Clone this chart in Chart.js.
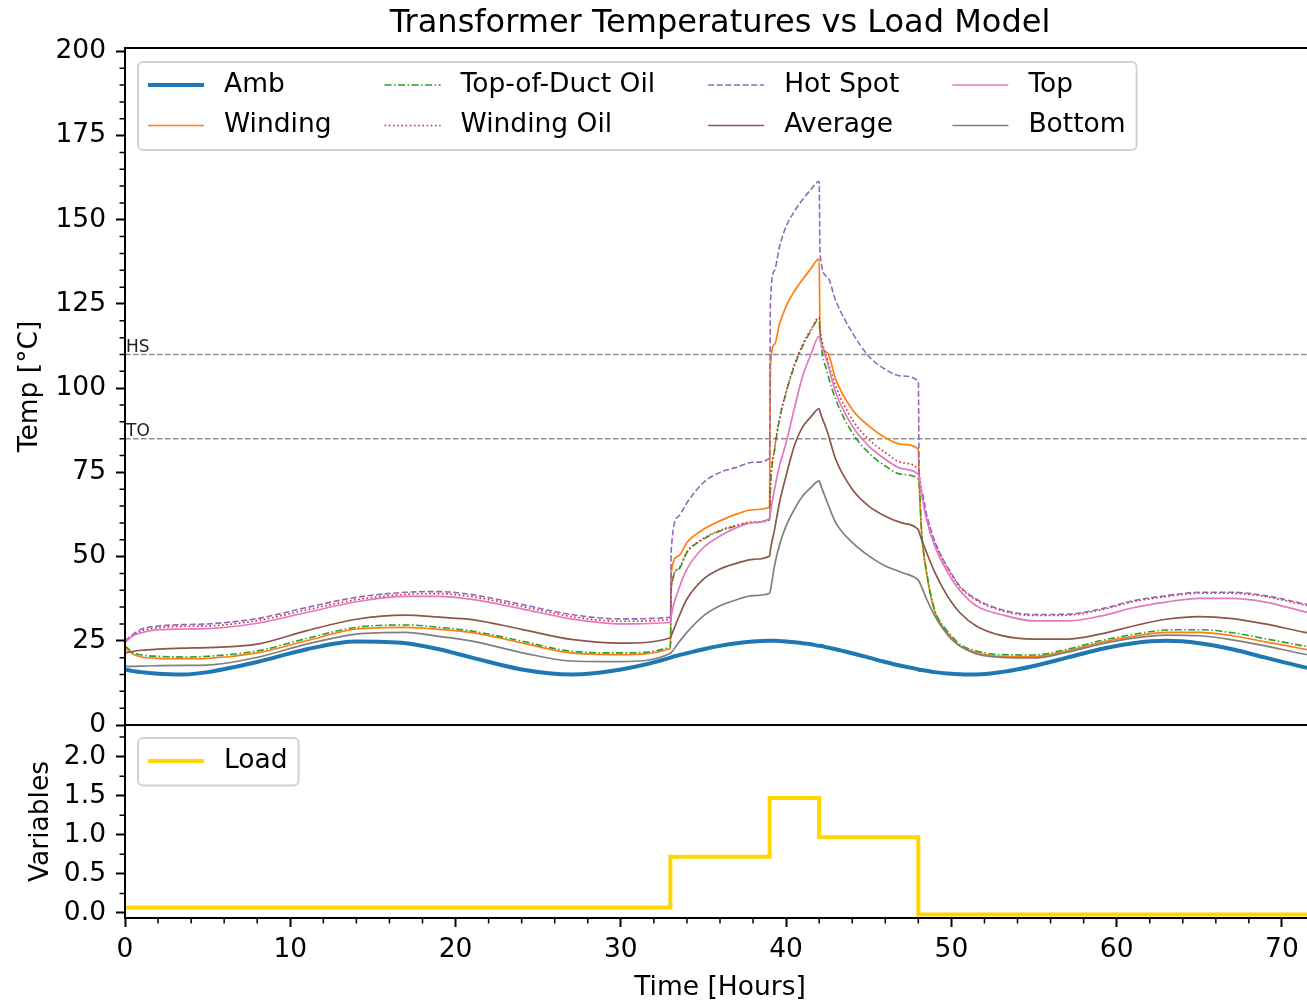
<!DOCTYPE html>
<html>
<head>
<meta charset="utf-8">
<script src="https://cdn.jsdelivr.net/npm/chart.js@4"></script>
<style>
html,body{margin:0;padding:0;overflow:hidden;background:#fff;width:1307px;height:1003px}
#wrap{position:relative;width:1307px;height:1003px;overflow:hidden;background:#fff}
#cTemp{position:absolute;left:0;top:0}
#cLoad{position:absolute;left:0;top:680px}
</style>
</head>
<body>
<div id="wrap">
<canvas id="cTemp" width="1320" height="770"></canvas>
<canvas id="cLoad" width="1320" height="323"></canvas>
</div>
<script>
// ---------------- data ----------------
const TITLE = 'Transformer Temperatures vs Load Model';
const hours = [0, 0.5, 1, 2, 3.5, 5, 8, 11, 14, 17, 19, 21, 24, 27, 30,
  33, 33.05, 33.5, 34, 35, 36, 37, 38, 39, 39.05, 39.3, 39.6, 40, 40.5, 41,
  41.5, 42, 42.05, 42.5, 43, 44, 45, 46, 47, 48, 48.05, 48.2, 48.5, 49, 49.5,
  50, 50.5, 51.5, 53, 55, 57, 59, 61, 63, 65, 67, 69, 71.4, 72];

const ambient = [16.5, 16.0, 15.7, 15.2, 15.0, 15.7, 18.7, 22.5, 24.8, 24.3, 22.5, 20.0, 16.5, 15.0, 16.5,
  20.0, 20.1, 20.7, 21.3, 22.5, 23.5, 24.3, 24.8, 25.0, 25.0, 25.0, 24.95, 24.8, 24.6, 24.3,
  24.0, 23.5, 23.5, 23.0, 22.5, 21.3, 20.0, 18.7, 17.5, 16.5, 16.4, 16.3, 16.1, 15.7, 15.4,
  15.2, 15.1, 15.0, 15.7, 17.5, 20.0, 22.5, 24.3, 25.0, 24.3, 22.5, 20.0, 17.1, 16.5];

const winding = [23.0, 21.0, 20.2, 19.8, 19.7, 19.8, 21.4, 25.0, 28.5, 29.0, 28.4, 27.4, 24.4, 21.4, 20.9,
  22.7, 45.3, 50.2, 54.2, 58.1, 60.6, 62.6, 63.9, 64.7, 106.6, 113.0, 119.0, 124.3, 128.8, 132.3,
  135.5, 138.4, 116.5, 110.5, 102.6, 93.7, 88.8, 85.3, 83.3, 81.9, 72.5, 57.0, 45.0, 33.5, 29.0,
  26.0, 23.5, 21.6, 20.4, 20.3, 22.0, 24.5, 26.3, 27.5, 27.5, 26.5, 24.7, 22.5, 22.0];

const topDuctOil = [23.5, 21.5, 20.8, 20.4, 20.2, 20.4, 22.0, 25.7, 29.0, 29.7, 29.0, 27.9, 24.9, 21.9, 21.4,
  23.2, 40.3, 46.3, 51.2, 55.2, 57.6, 59.1, 60.1, 60.9, 70.0, 81.5, 90.7, 98.7, 106.5, 112.5,
  117.0, 120.6, 116.0, 104.6, 96.7, 86.8, 80.8, 76.9, 74.4, 73.0, 71.5, 57.5, 45.5, 34.0, 29.5,
  26.5, 24.0, 22.0, 20.9, 20.8, 22.5, 25.0, 26.9, 28.2, 28.3, 27.4, 25.6, 23.4, 22.9];

const windingOil = [24.8, 26.8, 28.0, 28.9, 29.3, 29.4, 31.0, 34.2, 37.2, 38.8, 39.0, 38.1, 35.2, 32.2, 30.8,
  31.3, 40.5, 46.5, 51.4, 55.4, 57.8, 59.3, 60.3, 61.1, 70.5, 82.0, 91.0, 99.0, 107.0, 113.0,
  117.5, 121.0, 118.0, 108.5, 100.6, 90.7, 84.8, 80.9, 77.9, 75.9, 74.5, 69.5, 62.0, 54.0, 48.8,
  44.7, 41.0, 37.1, 34.0, 32.5, 32.6, 34.1, 36.6, 38.1, 39.1, 39.1, 38.1, 35.6, 35.0];

const hotSpot = [25.0, 27.0, 28.5, 29.4, 29.8, 30.0, 31.6, 34.9, 37.9, 39.4, 39.6, 38.7, 35.8, 32.8, 31.5,
  32.0, 52.0, 62.0, 66.0, 72.0, 75.0, 76.5, 78.0, 79.2, 125.0, 135.0, 142.0, 148.0, 152.5, 156.0,
  159.0, 161.4, 140.0, 133.0, 126.0, 116.5, 109.5, 105.6, 103.6, 102.0, 74.0, 69.5, 62.5, 54.5, 49.2,
  45.0, 41.3, 37.4, 34.3, 32.8, 32.9, 34.4, 36.9, 38.4, 39.4, 39.4, 38.4, 35.9, 35.3];

const average = [21.4, 21.9, 22.2, 22.5, 22.8, 23.0, 24.0, 28.0, 31.4, 32.6, 32.0, 31.3, 28.4, 25.4, 24.3,
  25.9, 26.5, 32.0, 37.4, 43.3, 46.3, 48.0, 49.2, 50.2, 52.0, 58.0, 66.0, 74.0, 83.0, 88.5,
  91.5, 93.9, 93.0, 87.0, 78.9, 70.0, 65.0, 62.0, 60.0, 58.0, 57.3, 55.0, 51.2, 45.3, 40.5,
  36.5, 33.4, 29.4, 26.6, 25.5, 25.5, 27.0, 29.4, 31.4, 32.2, 31.6, 30.0, 27.5, 27.0];

const topOil = [24.5, 26.5, 27.4, 28.3, 28.5, 28.6, 30.2, 33.4, 36.6, 38.2, 38.2, 37.3, 34.5, 31.5, 30.0,
  30.5, 32.5, 40.3, 46.3, 52.7, 56.1, 58.6, 60.1, 61.3, 63.0, 70.0, 77.0, 83.8, 94.0, 103.6,
  110.0, 115.5, 114.5, 107.6, 98.7, 88.8, 82.8, 78.9, 76.1, 74.4, 73.5, 68.5, 61.0, 53.0, 47.8,
  43.5, 40.0, 35.4, 32.8, 30.9, 30.9, 32.3, 34.8, 36.5, 37.6, 37.6, 36.5, 33.6, 33.0];

const bottomOil = [17.4, 17.4, 17.5, 17.6, 17.7, 17.8, 20.1, 24.0, 27.0, 27.5, 26.3, 24.9, 21.5, 19.0, 18.8,
  21.3, 21.5, 24.5, 27.5, 32.4, 35.4, 37.2, 38.4, 39.1, 40.0, 47.3, 53.5, 59.1, 64.0, 68.0,
  70.5, 72.5, 71.8, 66.0, 60.1, 54.2, 50.2, 47.2, 45.3, 43.0, 42.6, 41.0, 37.4, 32.3, 28.5,
  25.5, 23.5, 21.1, 20.1, 19.9, 21.6, 24.0, 25.8, 26.7, 26.5, 25.3, 23.5, 21.0, 20.6];

const loadHours = [0, 33, 39, 42, 48, 72];
const loadValues = [0.07, 0.72, 1.47, 0.97, -0.02, -0.02];

const limitLabels = ['HS', 'TO'];
const limitValues = [110, 85];

const X_MIN = 0, X_MAX = 72;

// ---------------- styling ----------------
const FONT = "'DejaVu Sans', 'Liberation Sans', sans-serif";
const FS = 26.5;        // tick / label / legend font size
const FS_TITLE = 32;    // title font size
Chart.defaults.font.family = FONT;
Chart.defaults.color = '#000';

const seriesDefs = [
  {label: 'Amb', values: ambient, color: '#1f77b4', width: 4, dash: []},
  {label: 'Winding', values: winding, color: '#ff7f0e', width: 1.7, dash: []},
  {label: 'Top-of-Duct Oil', values: topDuctOil, color: '#2ca02c', width: 1.6, dash: [7, 2.5, 1.5, 2.5]},
  {label: 'Winding Oil', values: windingOil, color: '#d62728', width: 1.6, dash: [1.6, 2.6]},
  {label: 'Hot Spot', values: hotSpot, color: '#9467bd', width: 1.6, dash: [6, 2.6]},
  {label: 'Average', values: average, color: '#8c564b', width: 1.7, dash: []},
  {label: 'Top', values: topOil, color: '#e377c2', width: 1.7, dash: []},
  {label: 'Bottom', values: bottomOil, color: '#7f7f7f', width: 1.7, dash: []}
];

// ---------------- plugins ----------------
const framePlugin = {
  id: 'frame',
  afterDatasetsDraw(chart) {
    const {ctx, chartArea: a} = chart;
    ctx.save();
    ctx.strokeStyle = '#000';
    ctx.lineWidth = 2;
    ctx.beginPath();
    ctx.moveTo(a.left, a.top); ctx.lineTo(a.right, a.top);
    ctx.moveTo(a.left, a.bottom); ctx.lineTo(a.right, a.bottom);
    ctx.moveTo(a.left, a.top - 1); ctx.lineTo(a.left, a.bottom + 1);
    ctx.moveTo(a.right, a.top - 1); ctx.lineTo(a.right, a.bottom + 1);
    ctx.stroke();
    ctx.restore();
  }
};

const minorTicksPlugin = {
  id: 'minorTicks',
  afterDraw(chart, args, opts) {
    const {ctx, chartArea: a} = chart;
    (opts.items || []).forEach(({axis, step}) => {
      const s = chart.scales[axis];
      const majors = s.ticks.map(t => t.value);
      ctx.save();
      ctx.strokeStyle = '#000';
      ctx.lineWidth = 1.5;
      ctx.beginPath();
      for (let k = Math.ceil(s.min / step - 1e-9); k * step <= s.max + 1e-9; k++) {
        const v = k * step;
        if (majors.some(m => Math.abs(m - v) < 1e-6)) continue;
        const p = s.getPixelForValue(v);
        if (axis === 'x') { ctx.moveTo(p, a.bottom); ctx.lineTo(p, a.bottom + 5.5); }
        else { ctx.moveTo(a.left - 5.5, p); ctx.lineTo(a.left, p); }
      }
      ctx.stroke();
      ctx.restore();
    });
  }
};

const limitsPlugin = {
  id: 'limits',
  beforeDatasetsDraw(chart) {
    const {ctx, chartArea: a, scales: {x, y}} = chart;
    limitValues.forEach((v, i) => {
      const py = y.getPixelForValue(v);
      ctx.save();
      ctx.strokeStyle = 'rgba(0,0,0,0.45)';
      ctx.lineWidth = 1.5;
      ctx.setLineDash([5.5, 2.5]);
      ctx.beginPath();
      ctx.moveTo(a.left, py); ctx.lineTo(a.right, py);
      ctx.stroke();
      ctx.setLineDash([]);
      ctx.fillStyle = '#222';
      ctx.font = '17px ' + FONT;
      ctx.textAlign = 'left';
      ctx.textBaseline = 'alphabetic';
      ctx.fillText(limitLabels[i], x.getPixelForValue(0) + 1, py - 2.5);
      ctx.restore();
    });
  }
};

const titlePlugin = {
  id: 'axTitle',
  afterDraw(chart, args, opts) {
    if (!opts.text) return;
    const {ctx, chartArea: a} = chart;
    ctx.save();
    ctx.fillStyle = '#000';
    ctx.font = FS_TITLE + 'px ' + FONT;
    ctx.textAlign = 'center';
    ctx.textBaseline = 'alphabetic';
    ctx.fillText(opts.text, (a.left + a.right) / 2, a.top - 16);
    ctx.restore();
  }
};

const mplLegend = {
  id: 'mplLegend',
  afterDraw(chart, args, o) {
    const ctx = chart.ctx, a = chart.chartArea;
    const ds = chart.data.datasets;
    const rows = o.rows || 1;
    const cols = Math.ceil(ds.length / rows);
    const handle = 56, gap = 20, colSpace = 53, padL = 10, padR = 11;
    const rowFirst = 23, rowStep = 40.5, padB = 24.5;
    ctx.save();
    ctx.font = FS + 'px ' + FONT;
    const left = a.left + 13, top = a.top + (o.top || 14);
    const xs = [];
    let x = left + padL;
    for (let c = 0; c < cols; c++) {
      xs.push(x);
      let w = 0;
      for (let r = 0; r < rows; r++) {
        const d = ds[c * rows + r];
        if (d) w = Math.max(w, ctx.measureText(d.label).width);
      }
      x += handle + gap + w + colSpace;
    }
    const right = x - colSpace + padR;
    const height = rowFirst + (rows - 1) * rowStep + padB;
    ctx.beginPath();
    ctx.roundRect(left, top, right - left, height, 5);
    ctx.fillStyle = 'rgba(255,255,255,0.8)';
    ctx.fill();
    ctx.lineWidth = 2;
    ctx.strokeStyle = '#d2d2d2';
    ctx.stroke();
    ds.forEach((d, i) => {
      const c = Math.floor(i / rows), r = i % rows;
      const cy = top + rowFirst + r * rowStep;
      ctx.beginPath();
      ctx.setLineDash(d.borderDash || []);
      ctx.lineWidth = d.borderWidth;
      ctx.strokeStyle = d.borderColor;
      ctx.moveTo(xs[c], cy); ctx.lineTo(xs[c] + handle, cy);
      ctx.stroke();
      ctx.setLineDash([]);
      ctx.fillStyle = '#000';
      ctx.textAlign = 'left';
      ctx.textBaseline = 'middle';
      ctx.fillText(d.label, xs[c] + handle + gap, cy);
    });
    ctx.restore();
  }
};

// ---------------- common axis pieces ----------------
const tickGrid = {drawOnChartArea: false, drawTicks: true, tickLength: 9, tickWidth: 2, tickColor: '#000'};
const axisBorder = {display: true, color: '#000', width: 2};

// ---------------- temperature chart ----------------
const tempDatasets = seriesDefs.map((s, i) => ({
  label: s.label,
  data: hours.map((h, k) => ({x: h, y: s.values[k]})),
  borderColor: s.color,
  backgroundColor: s.color,
  borderWidth: s.width,
  borderDash: s.dash,
  borderJoinStyle: 'round',
  pointRadius: 0,
  fill: false,
  cubicInterpolationMode: 'monotone',
  order: seriesDefs.length - i
}));

new Chart(document.getElementById('cTemp'), {
  type: 'line',
  data: {datasets: tempDatasets},
  options: {
    responsive: false,
    animation: false,
    devicePixelRatio: 1,
    layout: {padding: {top: 48, right: 5, bottom: 45, left: 0}},
    plugins: {
      legend: {display: false},
      tooltip: {enabled: false},
      minorTicks: {items: [{axis: 'y', step: 5}]},
      axTitle: {text: TITLE},
      mplLegend: {rows: 2, top: 14}
    },
    scales: {
      x: {type: 'linear', min: X_MIN, max: X_MAX, display: false},
      y: {
        type: 'linear', min: 0, max: 201,
        ticks: {stepSize: 25, includeBounds: false, font: {size: FS}, color: '#000', padding: 10},
        grid: tickGrid,
        border: axisBorder,
        title: {display: true, text: 'Temp [°C]', font: {size: FS}, color: '#000', padding: {top: 14.4, bottom: 0}},
        afterFit: s => { s.width = 125; }
      }
    }
  },
  plugins: [limitsPlugin, framePlugin, minorTicksPlugin, titlePlugin, mplLegend]
});

// ---------------- load chart ----------------
new Chart(document.getElementById('cLoad'), {
  type: 'line',
  data: {
    datasets: [{
      label: 'Load',
      data: loadHours.map((h, k) => ({x: h, y: loadValues[k]})),
      borderColor: '#ffd700',
      backgroundColor: '#ffd700',
      borderWidth: 4,
      stepped: true,
      pointRadius: 0,
      fill: false
    }]
  },
  options: {
    responsive: false,
    animation: false,
    devicePixelRatio: 1,
    layout: {padding: {top: 45, right: 5, bottom: 0, left: 0}},
    plugins: {
      legend: {display: false},
      tooltip: {enabled: false},
      minorTicks: {items: [{axis: 'y', step: 0.25}, {axis: 'x', step: 2}]},
      mplLegend: {rows: 1, top: 13}
    },
    scales: {
      x: {
        type: 'linear', min: X_MIN, max: X_MAX,
        ticks: {stepSize: 10, includeBounds: false, font: {size: FS}, color: '#000', padding: 7, maxRotation: 0},
        grid: tickGrid,
        border: axisBorder,
        title: {display: true, text: 'Time [Hours]', font: {size: FS}, color: '#000', padding: {top: 0, bottom: -1}},
        afterFit: s => { s.height = 85; }
      },
      y: {
        type: 'linear', min: -0.065, max: 2.405,
        ticks: {stepSize: 0.5, includeBounds: false, font: {size: FS}, color: '#000', padding: 10,
                callback: v => Number(v).toFixed(1)},
        grid: tickGrid,
        border: axisBorder,
        title: {display: true, text: 'Variables', font: {size: FS}, color: '#000', padding: {top: 25.4, bottom: 0}},
        afterFit: s => { s.width = 125; }
      }
    }
  },
  plugins: [framePlugin, minorTicksPlugin, mplLegend]
});
</script>
</body>
</html>
